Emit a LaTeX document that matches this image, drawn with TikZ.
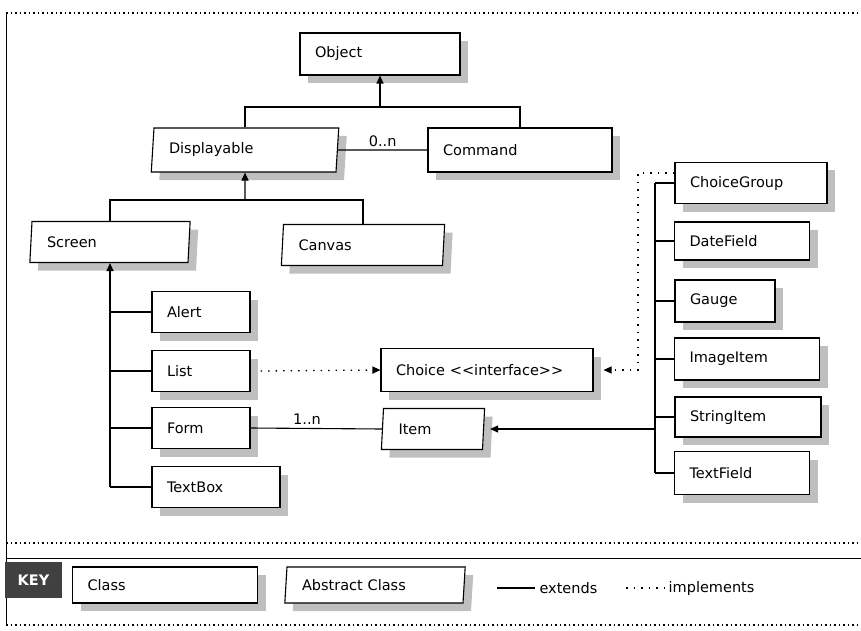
\documentclass[tikz,border=0pt]{standalone}
\usepackage{fontspec}
\setmainfont{DejaVu Sans}
\usetikzlibrary{shapes.geometric,shadows,arrows.meta}
\begin{document}
\begin{tikzpicture}[x=1pt,y=-1pt,
  lbl/.style={font=\fontsize{14.5}{17}\selectfont},
  cls/.style={lbl, draw, line width=1.1pt, fill=white, rectangle,
    inner xsep=15pt, inner ysep=0pt, align=left, text width=#1,
    minimum height=41pt,
    drop shadow={shadow xshift=8pt, shadow yshift=-8pt, fill=black!25, opacity=1}},
  abscls/.style={cls=#1, trapezium, trapezium left angle=79,
    trapezium right angle=101, trapezium stretches body},
  wire/.style={line width=1.1pt},
  ext/.style={wire, -{Triangle[length=8pt,width=7pt]}},
  impl/.style={line width=1.3pt, dash pattern=on 1.5pt off 6pt},
  impltip/.style={impl, -{Triangle[length=8pt,width=7pt]}},
  mult/.style={lbl, inner sep=1pt},
  frame/.style={line width=1pt},
  dotframe/.style={line width=1.3pt, dash pattern=on 1.5pt off 3pt}
]
\useasboundingbox (0,0) rectangle (861,631);

% page frame
\draw[frame] (6,13) -- (6,625);
\draw[dotframe] (6,13) -- (861,13);
\draw[dotframe] (6,543) -- (861,543);
\draw[frame] (6,558) -- (861,558);
\draw[dotframe] (6,625) -- (861,625);

% class hierarchy
\node[cls=130, minimum height=42pt] (obj) at (380,54) {Object};
\node[abscls=152, minimum height=44pt] (disp) at (245,150) {Displayable};
\node[cls=154, minimum height=44pt] (cmd) at (520,150) {Command};
\node[abscls=126] (screen) at (110,242) {Screen};
\node[abscls=129] (canvas) at (363,245) {Canvas};
\node[cls=68] (alert) at (201,312) {Alert};
\node[cls=68] (list) at (201,371) {List};
\node[cls=68] (form) at (201,428) {Form};
\node[cls=98] (textbox) at (216,487) {TextBox};
\node[cls=182, minimum height=43pt] (choice) at (487,370) {Choice {<}{<}interface{>}{>}};
\node[abscls=69] (item) at (433,429) {Item};
\node[cls=122] (cg) at (751,183) {ChoiceGroup};
\node[cls=105, minimum height=38pt] (df) at (742,241) {DateField};
\node[cls=70, minimum height=42pt] (gauge) at (725,301) {Gauge};
\node[cls=115, minimum height=42pt] (ii) at (747,359) {ImageItem};
\node[cls=116, minimum height=40pt] (si) at (748,417) {StringItem};
\node[cls=105, minimum height=43pt] (tf) at (742,473) {TextField};

% junction points
\coordinate (j1) at (380,107);
\coordinate (j2) at (245,200);
\coordinate (rv) at (655,0);
\coordinate (iv) at (638,0);

% Object <- Displayable, Command
\draw[ext] (j1) -- (obj.south);
\draw[wire] (disp.north) -- (disp.north |- j1) -- (cmd.north |- j1) -- (cmd.north);
\draw[wire] (disp.east) -- node[mult, above=2pt] {0..n} (cmd.west);

% Displayable <- Screen, Canvas
\draw[ext] (j2) -- (disp.south);
\draw[wire] (screen.north) -- (screen.north |- j2) -- (canvas.north |- j2) -- (canvas.north);

% Screen <- Alert, List, Form, TextBox
\draw[ext] (screen.south |- textbox.west) -- (screen.south);
\foreach \n in {alert,list,form,textbox}
  \draw[wire] (screen.south |- \n.west) -- (\n.west);

% List implements Choice, Form holds Items
\draw[impltip] ([xshift=10pt]list.east) -- (choice.west);
\draw[wire] (form.east) -- node[mult, above=2pt, pos=0.43] {1..n} (item.west);

% Item <- concrete items
\draw[wire] (rv |- cg.west) -- (rv |- tf.west);
\foreach \n in {cg,df,gauge,ii,si,tf}
  \draw[wire] (rv |- \n.west) -- (\n.west);
\draw[ext] (rv |- item.east) -- ([xshift=6pt]item.east);

% ChoiceGroup implements Choice
\draw[impltip] ([yshift=10pt]cg.west) -- ([yshift=10pt]cg.west -| iv)
  -- (iv |- choice.east) -- ([xshift=10pt]choice.east);

% key
\node[fill=black!75, text=white, lbl, font=\fontsize{14.5}{17}\selectfont\bfseries,
  minimum width=57pt, minimum height=36pt, inner sep=0pt] (key) at (33.5,580) {KEY};
\node[cls=155, minimum height=36pt] (kcls) at (165,585) {Class};
\node[abscls=146, minimum height=36pt] (kabs) at (375,585) {Abstract Class};
\coordinate (ka) at (497,588);
\coordinate (kb) at (535,588);
\draw[wire] (ka) -- (kb) node[lbl, anchor=west, inner xsep=4pt] (kext) {extends};
\coordinate (kc) at (626,588);
\coordinate (kd) at (665,588);
\draw[impl] (kc) -- (kd) node[lbl, anchor=west, inner xsep=3pt] (kimp) {implements};
\end{tikzpicture}
\end{document}
